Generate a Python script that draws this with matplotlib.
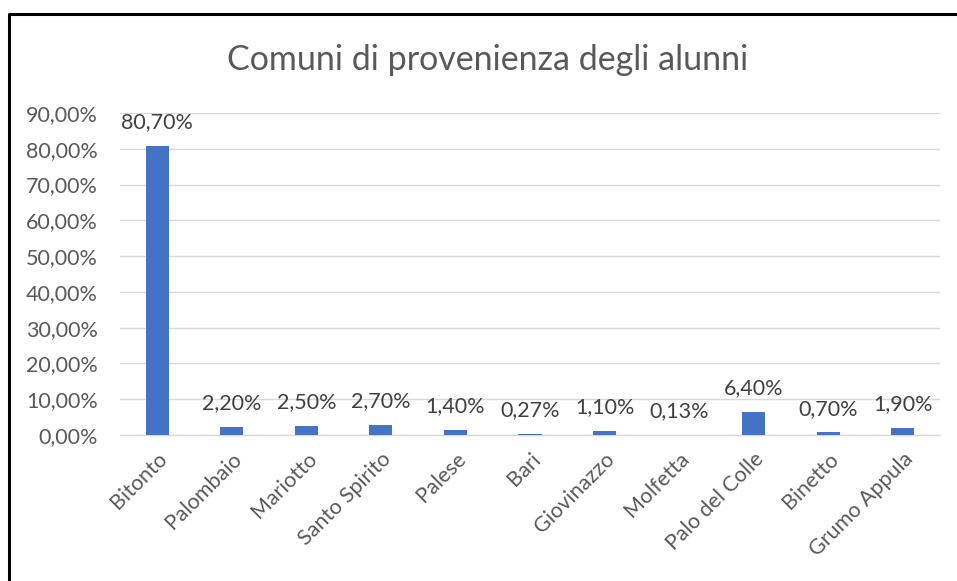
import matplotlib
matplotlib.use("Agg")
import matplotlib.pyplot as plt
from matplotlib.lines import Line2D

categories = ["Bitonto", "Palombaio", "Mariotto", "Santo Spirito", "Palese", "Bari",
              "Giovinazzo", "Molfetta", "Palo del Colle", "Binetto", "Grumo Appula"]
values = [80.70, 2.20, 2.50, 2.70, 1.40, 0.27, 1.10, 0.13, 6.40, 0.70, 1.90]
yticks = [0, 10, 20, 30, 40, 50, 60, 70, 80, 90]

plt.rcParams['font.family'] = ['Lato', 'DejaVu Sans']
W, H = 957, 581
fig = plt.figure(figsize=(W / 100, H / 100), dpi=100)
ax = fig.add_axes([120 / W, 1 - 435 / H, 820 / W, (435 - 113) / H])

text_col = "#595959"
fs = 15.5
x = list(range(len(categories)))
ax.bar(x, values, width=0.31, color="#4472C4", zorder=3)
ax.set_xlim(-0.5, len(categories) - 0.5)
ax.set_ylim(0, 90)
ax.set_yticks(yticks)
ax.set_yticklabels([f"{v:.2f}%".replace(".", ",") for v in yticks], fontsize=fs, color=text_col)
ax.set_xticks(x)
ax.set_xticklabels(categories, rotation=45, ha="right", rotation_mode="anchor",
                   fontsize=fs, color=text_col)
ax.tick_params(axis="both", length=0)
ax.tick_params(axis="y", pad=16)
ax.tick_params(axis="x", pad=10)
ax.grid(axis="y", color="#D9D9D9", linewidth=1, zorder=0)
for s in ["top", "right", "left"]:
    ax.spines[s].set_visible(False)
ax.spines["bottom"].set_color("#D9D9D9")
ax.spines["bottom"].set_linewidth(1)

for xi, v in zip(x, values):
    ax.annotate(f"{v:.2f}%".replace(".", ","), (xi, v), xytext=(0, 10),
                textcoords="offset points", ha="center", va="bottom",
                fontsize=fs, color="#404040")

fig.text(488 / W, 1 - 60 / H, "Comuni di provenienza degli alunni", ha="center",
         va="center", fontsize=24.5, color=text_col)

# chart frame (left and top edges visible)
fig.add_artist(Line2D([9 / W, 9 / W, 1.0], [0.0, 1 - 14 / H, 1 - 14 / H],
                      transform=fig.transFigure, color="black", linewidth=2.2))

fig.savefig("out.png", dpi=100)
